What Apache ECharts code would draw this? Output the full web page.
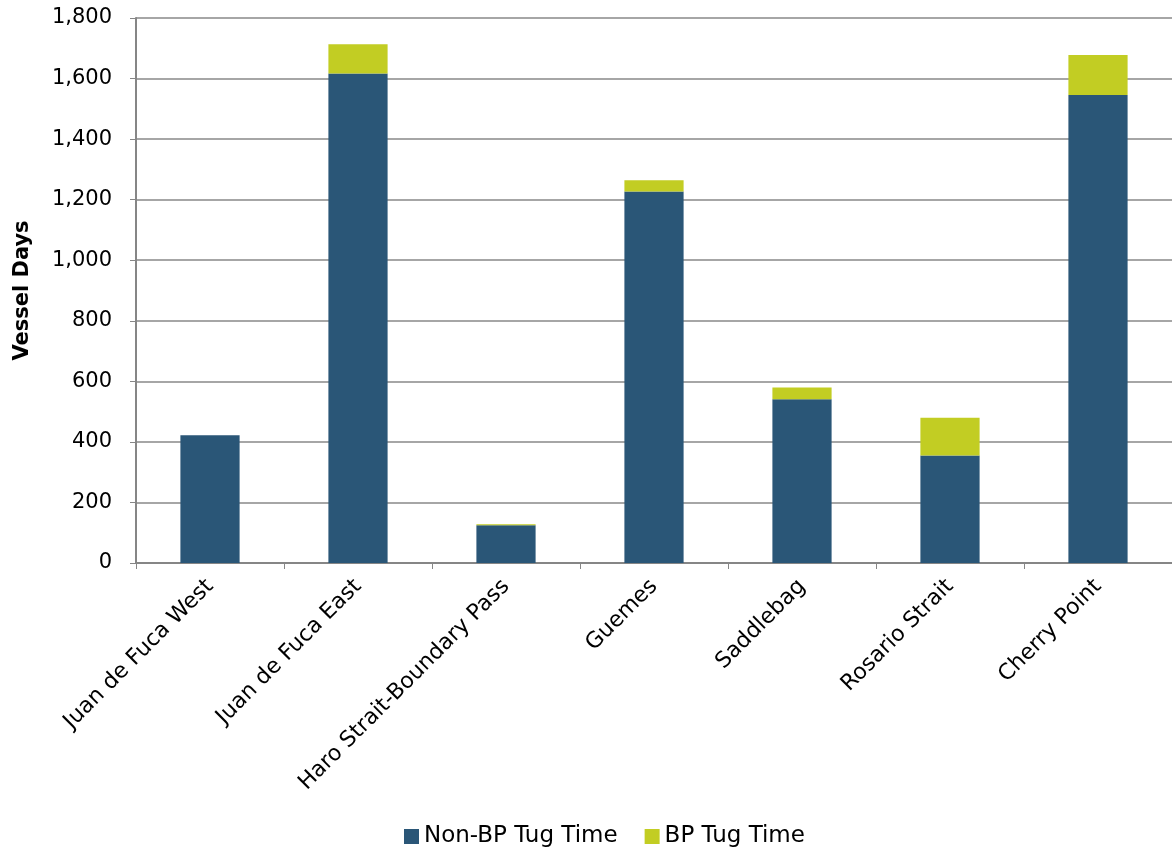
<!DOCTYPE html>
<html>
<head>
<meta charset="utf-8">
<script src="https://cdn.jsdelivr.net/npm/echarts@6/dist/echarts.min.js"></script>
<style>
  html, body { margin: 0; padding: 0; background: #ffffff; }
  #chart { width: 1172px; height: 853px; }
</style>
</head>
<body>
<div id="chart"></div>
<script>
// Vessel days by waterway zone, split into non-BP and BP tug time
const categories = ['Juan de Fuca West', 'Juan de Fuca East', 'Haro Strait-Boundary Pass', 'Guemes', 'Saddlebag', 'Rosario Strait', 'Cherry Point'];
const nonBpTugTime = [422, 1617, 125, 1227, 541, 355, 1546];
const bpTugTime = [0, 96, 3, 37, 39, 125, 132];
const yTicks = { min: 0, max: 1800, interval: 200 };

const FONT = '"DejaVu Sans", "Liberation Sans", Arial, sans-serif';
const chart = echarts.init(document.getElementById('chart'), null, { renderer: 'canvas' });

chart.setOption({
  animation: false,
  backgroundColor: '#ffffff',
  textStyle: { fontFamily: FONT, color: '#000000' },
  grid: { left: 136, top: 18, width: 1040, bottom: 290, containLabel: false },
  legend: {
    bottom: 0,
    left: 399,
    itemWidth: 15,
    itemHeight: 15,
    itemGap: 27,
    icon: 'rect',
    textStyle: { fontFamily: FONT, fontSize: 23, color: '#000000' },
    data: ['Non-BP Tug Time', 'BP Tug Time']
  },
  xAxis: {
    type: 'category',
    data: categories,
    boundaryGap: true,
    axisLine: { lineStyle: { color: '#868686', width: 2 } },
    axisTick: { show: true, length: 6, lineStyle: { color: '#868686', width: 1 } },
    axisLabel: {
      interval: 0,
      rotate: 45,
      margin: 20,
      fontFamily: FONT,
      fontSize: 22,
      color: '#000000'
    }
  },
  yAxis: {
    type: 'value',
    min: yTicks.min,
    max: yTicks.max,
    interval: yTicks.interval,
    name: 'Vessel Days',
    nameLocation: 'middle',
    nameGap: 103,
    nameRotate: 90,
    nameTextStyle: { fontFamily: FONT, fontSize: 21, fontWeight: 'bold', color: '#000000' },
    axisLine: { show: true, lineStyle: { color: '#868686', width: 2 } },
    axisTick: { show: true, length: 6, lineStyle: { color: '#868686', width: 1 } },
    splitLine: { show: true, lineStyle: { color: '#a6a6a6', width: 2 } },
    axisLabel: {
      margin: 24,
      fontFamily: FONT,
      fontSize: 21,
      color: '#000000',
      formatter: v => v.toLocaleString('en-US')
    }
  },
  series: [
    {
      name: 'Non-BP Tug Time',
      type: 'bar',
      stack: 'total',
      barWidth: '40%',
      data: nonBpTugTime,
      itemStyle: { color: '#2a5677' }
    },
    {
      name: 'BP Tug Time',
      type: 'bar',
      stack: 'total',
      barWidth: '40%',
      data: bpTugTime,
      itemStyle: { color: '#c2cd23' }
    }
  ]
});
</script>
</body>
</html>
